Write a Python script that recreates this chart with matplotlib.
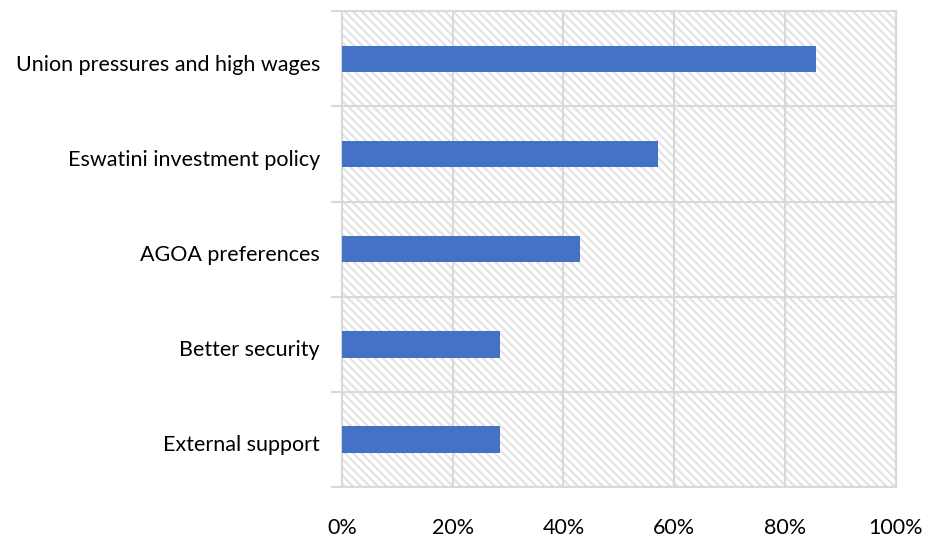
import matplotlib.pyplot as plt
import numpy as np
import matplotlib.transforms as mtrans
from matplotlib.patches import Rectangle

categories = ["Union pressures and high wages", "Eswatini investment policy",
              "AGOA preferences", "Better security", "External support"]
values = [85.7, 57.1, 42.9, 28.6, 28.6]
xticks = [0, 20, 40, 60, 80, 100]
xlabels = ["0%", "20%", "40%", "60%", "80%", "100%"]

plt.rcParams['font.family'] = ['Lato', 'DejaVu Sans']
plt.rcParams['hatch.linewidth'] = 1.6

fig = plt.figure(figsize=(9.32, 5.36), dpi=100)
ax = fig.add_axes([0.367, 0.0914, 0.594, 0.8876])

grid = '#d9d9d9'
pos = np.arange(len(categories))[::-1]
ax.set_xlim(0, 100)
ax.set_ylim(-0.5, len(categories) - 0.5)

# hatched plot area
ax.add_patch(Rectangle((0, 0), 1, 1, transform=ax.transAxes, facecolor='white',
                       edgecolor='#e3e3e3', linewidth=0, hatch='\\\\\\\\', zorder=0))

ax.barh(pos, values, height=0.28, color='#4472c4', zorder=3)

ax.set_xticks(xticks)
ax.set_xticklabels(xlabels)
ax.set_yticks(pos)
ax.set_yticklabels(categories)
ax.set_yticks(np.arange(-0.5, len(categories)), minor=True)

ax.tick_params(axis='y', which='major', length=0, pad=21, labelsize=15.5, colors='#000000')
ax.tick_params(axis='y', which='minor', length=8, color=grid, width=1.5)
ax.tick_params(axis='x', length=0, pad=22, labelsize=15.5)

# labels sit a little below the bar centre, as in the original
shift = mtrans.ScaledTranslation(0.07, -4 / 100, fig.dpi_scale_trans)
for lbl in ax.get_yticklabels():
    lbl.set_transform(lbl.get_transform() + shift)

ax.grid(axis='x', color=grid, linewidth=1.5, zorder=1)
ax.grid(axis='y', which='minor', color=grid, linewidth=1.5, zorder=1)
for s in ax.spines.values():
    s.set_color(grid)
    s.set_linewidth(1.5)
ax.set_axisbelow(True)

fig.savefig('out.png', dpi=100)
